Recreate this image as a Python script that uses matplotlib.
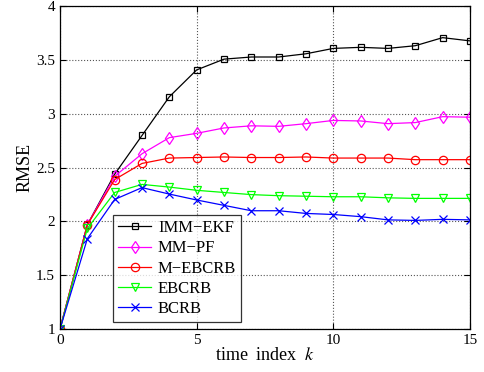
import numpy as np
import matplotlib.pyplot as plt

k = np.arange(16)
imm_ekf = [1.0, 1.97, 2.44, 2.80, 3.16, 3.41, 3.51, 3.53, 3.53, 3.56, 3.61, 3.62, 3.61, 3.635, 3.71, 3.68]
mm_pf = [1.0, 1.97, 2.42, 2.63, 2.78, 2.82, 2.87, 2.89, 2.885, 2.91, 2.94, 2.935, 2.91, 2.92, 2.975, 2.97]
m_ebcrb = [1.0, 1.97, 2.39, 2.54, 2.59, 2.595, 2.60, 2.595, 2.595, 2.60, 2.59, 2.59, 2.59, 2.575, 2.575, 2.575]
ebcrb = [1.0, 1.935, 2.27, 2.345, 2.32, 2.29, 2.27, 2.25, 2.24, 2.235, 2.23, 2.23, 2.22, 2.215, 2.215, 2.215]
bcrb = [1.0, 1.84, 2.205, 2.315, 2.255, 2.20, 2.15, 2.10, 2.10, 2.075, 2.065, 2.045, 2.015, 2.01, 2.02, 2.015]

labels = ['IMM\u2212EKF', 'MM\u2212PF', 'M\u2212EBCRB', 'EBCRB', 'BCRB']
colors = ['black', 'magenta', 'red', '#00ff00', 'blue']
markers = ['s', 'd', 'o', 'v', 'x']
sizes = [5, 6, 6, 6, 6]
series = [imm_ekf, mm_pf, m_ebcrb, ebcrb, bcrb]

plt.rcParams['font.family'] = ['Liberation Serif', 'DejaVu Serif']
plt.rcParams['mathtext.fontset'] = 'stix'

fig = plt.figure(figsize=(4.84, 3.72), dpi=100)
ax = fig.add_axes([0.124, 0.1156, 0.847, 0.867])

for y, lab, c, m, ms in zip(series, labels, colors, markers, sizes):
    ax.plot(k, y, color=c, marker=m, markersize=ms, markerfacecolor='none',
            markeredgecolor=c, linewidth=0.9, markeredgewidth=0.9, label=lab)

ax.set_xlim(0, 15)
ax.set_ylim(1, 4)
ax.set_xticks([0, 5, 10, 15])
ax.set_yticks([1, 1.5, 2, 2.5, 3, 3.5, 4])
ax.set_yticklabels(['1', '1.5', '2', '2.5', '3', '3.5', '4'])
ax.tick_params(direction='in', length=4, labelsize=11, top=True, right=True)
ax.grid(True, linestyle=':', color='#555555', linewidth=0.8)
ax.set_xlabel('time  index  $k$', fontsize=13, labelpad=0)
ax.set_ylabel('RMSE', fontsize=13, labelpad=2)
for s in ax.spines.values():
    s.set_linewidth(0.9)

leg = ax.legend(loc='lower left', bbox_to_anchor=(0.129, 0.022), fontsize=12,
                frameon=True, fancybox=False, edgecolor='black',
                handlelength=2.0, handletextpad=0.4, borderpad=0.3,
                labelspacing=0.25, borderaxespad=0)
leg.get_frame().set_linewidth(0.9)

fig.savefig('out.png', dpi=100)
